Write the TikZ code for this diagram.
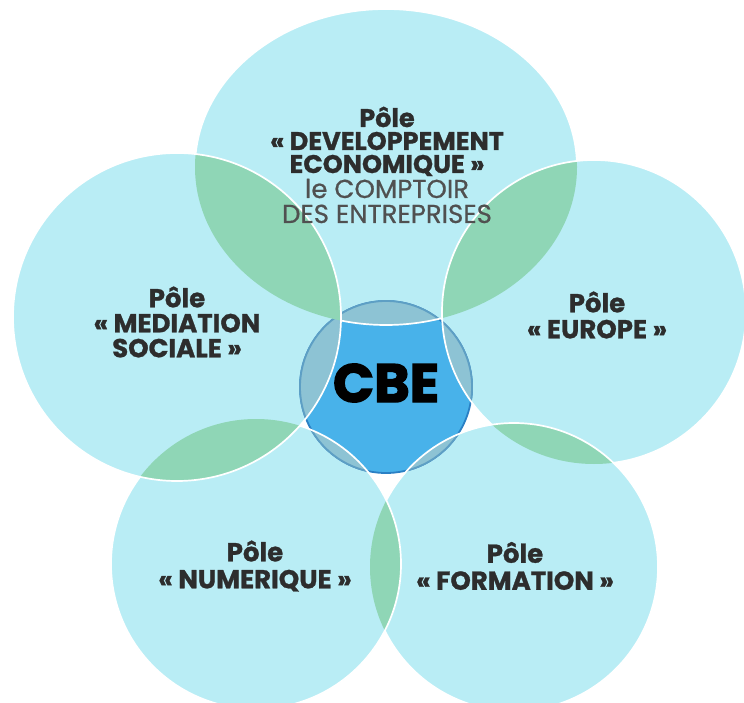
\documentclass[tikz,border=0pt]{standalone}
\usepackage{fontspec}
\setmainfont{Poppins}
\definecolor{polefill}{HTML}{B9EDF5}
\definecolor{lensgreen}{HTML}{8FD6B6}
\definecolor{cbeblue}{HTML}{48B2EA}
\definecolor{cbeteal}{HTML}{8DC3D4}
\definecolor{cbeborder}{HTML}{2A80C4}
\definecolor{cbebordermuted}{HTML}{5E9FC4}
\definecolor{labeltext}{HTML}{2D2D2D}
\definecolor{subtext}{HTML}{505050}
\newcommand\cTop{(386,167) ellipse [x radius=191pt, y radius=158pt]}
\newcommand\cRight{(594,312) circle [radius=152pt]}
\newcommand\cBR{(514,567) circle [radius=144pt]}
\newcommand\cBL{(256,564) circle [radius=145pt]}
\newcommand\cLeft{(177,317) circle [radius=164pt]}
\newcommand\cCBE{(386,387) circle [radius=86pt]}
\newcommand\outside[1]{\clip (-20,-20) rectangle (770,730) #1;}
\begin{document}
\begin{tikzpicture}[x=1pt,y=-1pt,
  outline/.style={draw=white, line width=1.7pt},
  polelabel/.style={align=center, text=labeltext, inner sep=0pt,
    font=\fontsize{26}{25}\selectfont\bfseries\addfontfeature{FakeBold=1}},
  topline/.style={anchor=base, inner sep=0pt, text height=17pt, text depth=3pt,
    text=labeltext, font=\fontsize{25.5}{23}\selectfont\bfseries\addfontfeature{FakeBold=1}},
  subline/.style={anchor=base, inner sep=0pt, text height=17pt, text depth=3pt,
    text=subtext, font=\fontsize{26}{25}\selectfont\addfontfeature{FakeBold=0.6}}]
\useasboundingbox (0,0) rectangle (744,703);
\clip (0,0) rectangle (744,703);
% pole discs
\fill[polefill] \cTop;
\fill[polefill] \cRight;
\fill[polefill] \cBR;
\fill[polefill] \cBL;
\fill[polefill] \cLeft;
% central disc
\fill[cbeblue] \cCBE;
\draw[cbeborder, line width=1.8pt] \cCBE;
\begin{scope}\clip \cCBE;
  \fill[cbeteal] \cTop; \fill[cbeteal] \cRight; \fill[cbeteal] \cBR;
  \fill[cbeteal] \cBL; \fill[cbeteal] \cLeft;
\end{scope}
\begin{scope}\clip \cTop; \draw[cbebordermuted, line width=1.8pt] \cCBE; \end{scope}
\begin{scope}\clip \cRight; \draw[cbebordermuted, line width=1.8pt] \cCBE; \end{scope}
\begin{scope}\clip \cBR; \draw[cbebordermuted, line width=1.8pt] \cCBE; \end{scope}
\begin{scope}\clip \cBL; \draw[cbebordermuted, line width=1.8pt] \cCBE; \end{scope}
\begin{scope}\clip \cLeft; \draw[cbebordermuted, line width=1.8pt] \cCBE; \end{scope}
% overlapping lenses
\begin{scope}\clip \cRight; \fill[lensgreen] \cTop; \end{scope}
\begin{scope}\clip \cLeft; \fill[lensgreen] \cTop; \end{scope}
\begin{scope}\clip \cBR; \fill[lensgreen] \cRight; \end{scope}
\begin{scope}\clip \cBL; \fill[lensgreen] \cBR; \end{scope}
\begin{scope}\clip \cLeft; \fill[lensgreen] \cBL; \end{scope}
% white outlines, each hidden under the discs stacked above it
\begin{scope}[even odd rule]\outside\cRight \outside\cBR \outside\cBL \outside\cLeft
  \draw[outline] \cTop; \end{scope}
\begin{scope}[even odd rule]\outside\cBR \outside\cBL \outside\cLeft
  \draw[outline] \cRight; \end{scope}
\begin{scope}[even odd rule]\outside\cBL \outside\cLeft
  \draw[outline] \cBR; \end{scope}
\begin{scope}[even odd rule]\outside\cLeft
  \draw[outline] \cBL; \end{scope}
\draw[outline] \cLeft;
% labels
\node[topline] (devA) at (387,127) {Pôle};
\node[topline] (devB) at (387,150) {« DEVELOPPEMENT};
\node[topline] (devC) at (387,173) {ECONOMIQUE »};
\node[subline] (comptoirA) at (387,198) {le COMPTOIR};
\node[subline] (comptoirB) at (387,223) {DES ENTREPRISES};
\node[polelabel] (med) at (177,322) {Pôle\\« MEDIATION\\SOCIALE »};
\node[polelabel, font=\fontsize{26}{26}\selectfont\bfseries\addfontfeature{FakeBold=1}] (eur) at (597,315) {Pôle\\« EUROPE »};
\node[polelabel, font=\fontsize{26}{27}\selectfont\bfseries\addfontfeature{FakeBold=1}] (num) at (255,566) {Pôle\\« NUMERIQUE »};
\node[polelabel, font=\fontsize{26}{27}\selectfont\bfseries\addfontfeature{FakeBold=1}] (form) at (515,566) {Pôle\\« FORMATION »};
\node[inner sep=0pt, text=black, font=\fontsize{54}{54}\selectfont\bfseries\addfontfeature{FakeBold=2.5}] (cbe) at (386,383) {CBE};
\end{tikzpicture}
\end{document}
